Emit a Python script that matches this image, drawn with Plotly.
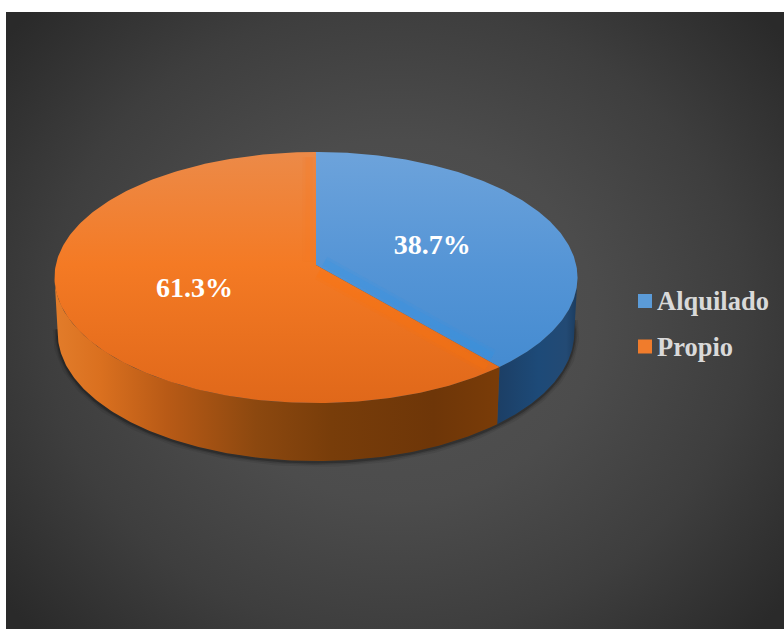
import numpy as np
import plotly.graph_objects as go

categories = ["Alquilado", "Propio"]
shares = [38.7, 61.3]
labels = ["38.7%", "61.3%"]

W, H = 784, 629
PANEL_LEFT, PANEL_TOP = 6, 12

# Tilted-disc projection: unit circle to screen units, with slight perspective.
CX, TILT = 316.0, 0.0996
TOP = dict(k=260.2, a=-97.9, b=265.0)
LOW = dict(k=257.0, a=-95.1, b=320.0)
# Angles where the projected rim reaches its left and right extremes
SIDE_R = float(np.degrees(np.arccos(-TILT)))
SIDE_L = 360 - SIDE_R


def project(theta_deg, r, rim):
    t = np.radians(theta_deg)
    X, Y = r * np.sin(t), r * np.cos(t)
    d = 1 + TILT * Y
    return CX + rim["k"] * X / d, (rim["a"] * Y + rim["b"]) / d


def arc(start, stop, rim, n=160):
    return project(np.linspace(start, stop, n), np.ones(n), rim)


def add_poly(fig, x, y, **style):
    fig.add_trace(go.Scatter(x=list(x), y=list(y), mode="lines", fill="toself",
                             line=dict(width=0), hoverinfo="skip",
                             showlegend=False, **style))


fig = go.Figure()

# Panel background: oversize rectangle so the vignette reaches the corners after clipping
gx, gy = 500, 450
vx, vy = 395, 320
add_poly(fig, [vx - gx, vx + gx, vx + gx, vx - gx, vx - gx],
         [vy - gy, vy - gy, vy + gy, vy + gy, vy - gy],
         fillgradient=dict(type="radial",
                           colorscale=[[0, "#535353"], [0.4, "#4c4c4c"],
                                       [0.7, "#3e3e3e"], [1, "#2a2a2a"]]))

# Soft contact shadow under the front of the disc
lx, ly = arc(SIDE_R - 6, SIDE_L + 2, LOW, 240)
for width, alpha in [(10, 0.07), (6, 0.12), (3, 0.22)]:
    fig.add_trace(go.Scatter(x=lx, y=ly + 1, mode="lines", hoverinfo="skip",
                             showlegend=False,
                             line=dict(color=f"rgba(0,0,0,{alpha})", width=width)))

# Slice boundaries, clockwise from twelve o'clock
cuts = np.concatenate([[0], np.cumsum(shares) / np.sum(shares) * 360])

# Side walls
wall_blue = dict(type="horizontal", start=499, stop=578,
                 colorscale=[[0, "#1c3f66"], [0.5, "#1d4a78"], [0.85, "#234a74"], [1, "#1a3a5c"]])
wall_orange = dict(type="horizontal", start=56, stop=500,
                   colorscale=[[0, "#e27c2a"], [0.1, "#da701f"], [0.25, "#b85a16"],
                               [0.45, "#8c480f"], [0.62, "#783d0a"], [0.85, "#6e3608"],
                               [1, "#7a3c08"]])

tx, ty = arc(SIDE_R, cuts[1], TOP)
bx, by = arc(cuts[1], SIDE_R, LOW)
add_poly(fig, np.r_[tx, bx, tx[0]], np.r_[ty, by, ty[0]], fillgradient=wall_blue)

tx, ty = arc(cuts[1], SIDE_L, TOP)
bx, by = arc(SIDE_L, cuts[1], LOW)
add_poly(fig, np.r_[tx, bx, tx[0]], np.r_[ty, by, ty[0]], fillgradient=wall_orange)

# Top faces
faces = [
    [[0, "#6da3db"], [0.45, "#5595d6"], [1, "#3f88cf"]],
    [[0, "#ec8a48"], [0.45, "#f47a24"], [1, "#e0681a"]],
]
apex_x, apex_y = project(np.array([0.0]), np.array([0.0]), TOP)
for i in range(2):
    ax_, ay_ = arc(cuts[i], cuts[i + 1], TOP, 240)
    add_poly(fig, np.r_[apex_x, ax_, apex_x], np.r_[apex_y, ay_, apex_y],
             fillgradient=dict(type="vertical", start=152, stop=403, colorscale=faces[i]))

# Soft lit bevels running alongside the radial edges
bevels = [
    (cuts[1], (3.0, -5.5), "rgba(45,150,235,{})"),
    (cuts[1], (-3.0, 5.5), "rgba(255,115,10,{})"),
    (cuts[2], (-7.0, 0.0), "rgba(248,122,32,{})"),
]
for edge, (dx, dy), colour in bevels:
    ex, ey = project(np.array([edge, edge]), np.array([0.03, 0.95]), TOP)
    for width, alpha in [(13, 0.14), (7, 0.18)]:
        fig.add_trace(go.Scatter(x=ex + dx, y=ey + dy, mode="lines", hoverinfo="skip",
                                 showlegend=False,
                                 line=dict(color=colour.format(alpha), width=width)))

# Value labels
label_radius = [0.485, 0.49]
mid = (cuts[:-1] + cuts[1:]) / 2
lab_x, lab_y = project(mid, np.array(label_radius), TOP)
fig.add_trace(go.Scatter(x=lab_x, y=lab_y + 3, mode="text", text=labels, hoverinfo="skip",
                         showlegend=False,
                         textfont=dict(family="Liberation Serif", size=28, color="white",
                                       weight="bold")))

# Legend
legend_y = [301, 346.5]
fig.add_trace(go.Scatter(x=[645, 645], y=legend_y, mode="markers", hoverinfo="skip",
                         showlegend=False,
                         marker=dict(symbol="square", size=14, line=dict(width=0),
                                     color=["#5b9bd8", "#f07c2c"])))
for name, yy in zip(categories, legend_y):
    fig.add_annotation(x=655, y=yy, text=f"<b>{name}</b>", showarrow=False, xanchor="left",
                       yanchor="middle",
                       font=dict(family="Liberation Serif", size=26.5, color="#d9d9d9"))

fig.update_layout(
    width=W, height=H, margin=dict(l=0, r=0, t=0, b=0),
    paper_bgcolor="white", plot_bgcolor="white", showlegend=False,
    xaxis=dict(domain=[PANEL_LEFT / W, 1], range=[PANEL_LEFT, W], visible=False, fixedrange=True),
    yaxis=dict(domain=[0, 1 - PANEL_TOP / H], range=[H, PANEL_TOP], visible=False, fixedrange=True),
)
fig.write_html("out.html", config=dict(displayModeBar=False))
